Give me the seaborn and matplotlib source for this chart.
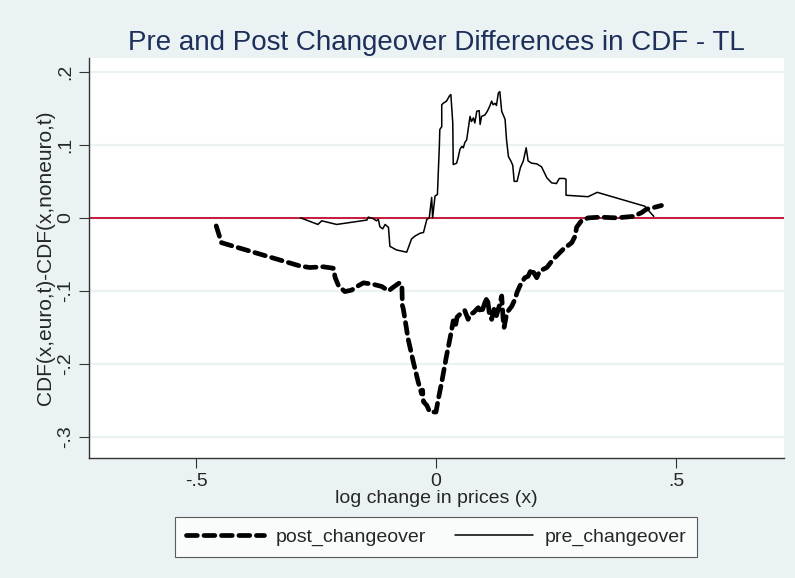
import pandas as pd
import seaborn as sns
import matplotlib.pyplot as plt

# values
post_x = [-0.458, -0.447, -0.283, -0.263, -0.235, -0.214, -0.210, -0.203, -0.190,
          -0.176, -0.162, -0.151, -0.131, -0.113, -0.099, -0.089, -0.076, -0.071,
          -0.070, -0.068, -0.058, -0.047, -0.037, -0.030, -0.028, -0.026, -0.019,
          -0.013, 0.000, 0.005, 0.012, 0.022, 0.029, 0.033, 0.036, 0.040, 0.044,
          0.050, 0.060, 0.067, 0.071, 0.078, 0.088, 0.095, 0.102, 0.107, 0.111,
          0.116, 0.121, 0.126, 0.133, 0.137, 0.140, 0.142, 0.146, 0.151, 0.158,
          0.165, 0.169, 0.175, 0.185, 0.192, 0.199, 0.210, 0.216, 0.231, 0.244,
          0.265, 0.283, 0.290, 0.293, 0.303, 0.317, 0.342, 0.376, 0.411, 0.428,
          0.439, 0.453, 0.470]
post_y = [-0.011, -0.034, -0.066, -0.068, -0.067, -0.069, -0.082, -0.093, -0.101,
          -0.099, -0.093, -0.089, -0.091, -0.094, -0.100, -0.095, -0.089, -0.093,
          -0.120, -0.125, -0.166, -0.198, -0.225, -0.241, -0.236, -0.252, -0.257,
          -0.266, -0.266, -0.248, -0.225, -0.189, -0.166, -0.152, -0.141, -0.150,
          -0.136, -0.132, -0.127, -0.139, -0.132, -0.130, -0.123, -0.130, -0.116,
          -0.109, -0.130, -0.139, -0.125, -0.134, -0.118, -0.107, -0.139, -0.150,
          -0.136, -0.127, -0.121, -0.111, -0.102, -0.093, -0.082, -0.080, -0.070,
          -0.082, -0.073, -0.068, -0.057, -0.043, -0.034, -0.025, -0.013, -0.004,
          0.000, 0.001, 0.000, 0.002, 0.007, 0.012, 0.014, 0.017]

pre_x = [-0.282, -0.246, -0.238, -0.207, -0.144, -0.141, -0.131, -0.124, -0.120,
         -0.117, -0.111, -0.106, -0.099, -0.096, -0.082, -0.061, -0.051, -0.044,
         -0.033, -0.026, -0.019, -0.014, -0.009, -0.007, -0.002, 0.003, 0.007,
         0.008, 0.012, 0.012, 0.015, 0.022, 0.028, 0.031, 0.035, 0.036, 0.043,
         0.046, 0.050, 0.054, 0.057, 0.060, 0.064, 0.069, 0.071, 0.074, 0.078,
         0.081, 0.085, 0.090, 0.092, 0.095, 0.102, 0.107, 0.112, 0.116, 0.119,
         0.123, 0.126, 0.130, 0.133, 0.137, 0.144, 0.147, 0.151, 0.156, 0.160,
         0.163, 0.169, 0.176, 0.182, 0.188, 0.192, 0.199, 0.210, 0.220, 0.231,
         0.241, 0.251, 0.257, 0.267, 0.271, 0.271, 0.317, 0.336, 0.435, 0.454]
pre_y = [0.000, -0.009, -0.004, -0.009, -0.003, 0.001, -0.001, -0.004, -0.002,
         -0.012, -0.015, -0.009, -0.013, -0.039, -0.044, -0.047, -0.029, -0.025,
         -0.021, -0.020, -0.002, 0.000, 0.028, 0.000, 0.030, 0.032, 0.098,
         0.121, 0.125, 0.155, 0.157, 0.160, 0.167, 0.169, 0.130, 0.073, 0.075,
         0.082, 0.094, 0.098, 0.096, 0.103, 0.107, 0.130, 0.139, 0.132, 0.137,
         0.130, 0.146, 0.147, 0.128, 0.139, 0.141, 0.146, 0.153, 0.160, 0.155,
         0.157, 0.154, 0.171, 0.173, 0.146, 0.135, 0.107, 0.084, 0.078, 0.072,
         0.050, 0.050, 0.069, 0.078, 0.096, 0.078, 0.075, 0.074, 0.070, 0.055,
         0.048, 0.047, 0.054, 0.054, 0.053, 0.031, 0.029, 0.035, 0.016, 0.002]

x_ticks = [-0.5, 0, 0.5]
x_ticklabels = ["-.5", "0", ".5"]
y_ticks = [-0.3, -0.2, -0.1, 0, 0.1, 0.2]
y_ticklabels = ["-.3", "-.2", "-.1", "0", ".1", ".2"]

post = pd.DataFrame({"x": post_x, "y": post_y})
pre = pd.DataFrame({"x": pre_x, "y": pre_y})

sns.set_style("white")
plt.rcParams["font.family"] = ["Liberation Sans", "DejaVu Sans"]

bg = "#EAF2F3"
fig = plt.figure(figsize=(7.95, 5.78), dpi=100, facecolor=bg)
ax = fig.add_axes([0.112, 0.2076, 0.874, 0.692])
ax.set_facecolor("white")

for yt in y_ticks:
    ax.axhline(yt, color=bg, lw=1.6, zorder=0)
ax.axhline(0, color="#C8193C", lw=1.4, zorder=1)

sns.lineplot(data=post, x="x", y="y", ax=ax, sort=False, estimator=None,
             color="black", lw=3.4, dashes=False, label="post_changeover",
             solid_capstyle="round", zorder=3)
post_line = ax.lines[-1]
post_line.set_linestyle((0, (2.3, 1.4)))
post_line.set_dash_capstyle("round")

sns.lineplot(data=pre, x="x", y="y", ax=ax, sort=False, estimator=None,
             color="black", lw=1.1, label="pre_changeover", zorder=2)

ax.set_xlim(-0.723, 0.725)
ax.set_ylim(-0.329, 0.219)
ax.set_xticks(x_ticks)
ax.set_xticklabels(x_ticklabels)
ax.set_yticks(y_ticks)
ax.set_yticklabels(y_ticklabels, rotation=90, va="center")
ax.tick_params(axis="both", direction="out", length=7, width=0.8, color="#333333",
               labelsize=14, pad=4, left=True, bottom=True)

for s in ["top", "right"]:
    ax.spines[s].set_visible(False)
for s in ["left", "bottom"]:
    ax.spines[s].set_color("#333333")
    ax.spines[s].set_linewidth(1.0)

ax.set_xlabel("log change in prices (x)", fontsize=14, labelpad=0)
ax.set_ylabel("CDF(x,euro,t)-CDF(x,noneuro,t)", fontsize=15, labelpad=1)
ax.set_title("Pre and Post Changeover Differences in CDF - TL", fontsize=20,
             color="#1E2F5A", pad=6)

ax.get_legend().remove()
handles, labels = ax.get_legend_handles_labels()
leg = fig.legend(handles, labels, loc="center", ncol=2,
                 bbox_to_anchor=(436 / 795, 1 - 537 / 578),
                 fontsize=14, frameon=True, fancybox=False, edgecolor="#333333",
                 handlelength=4.0, columnspacing=1.5, handletextpad=0.6,
                 borderpad=0.55)
leg.get_frame().set_linewidth(0.8)

fig.savefig("out.png", dpi=100, facecolor=bg)
